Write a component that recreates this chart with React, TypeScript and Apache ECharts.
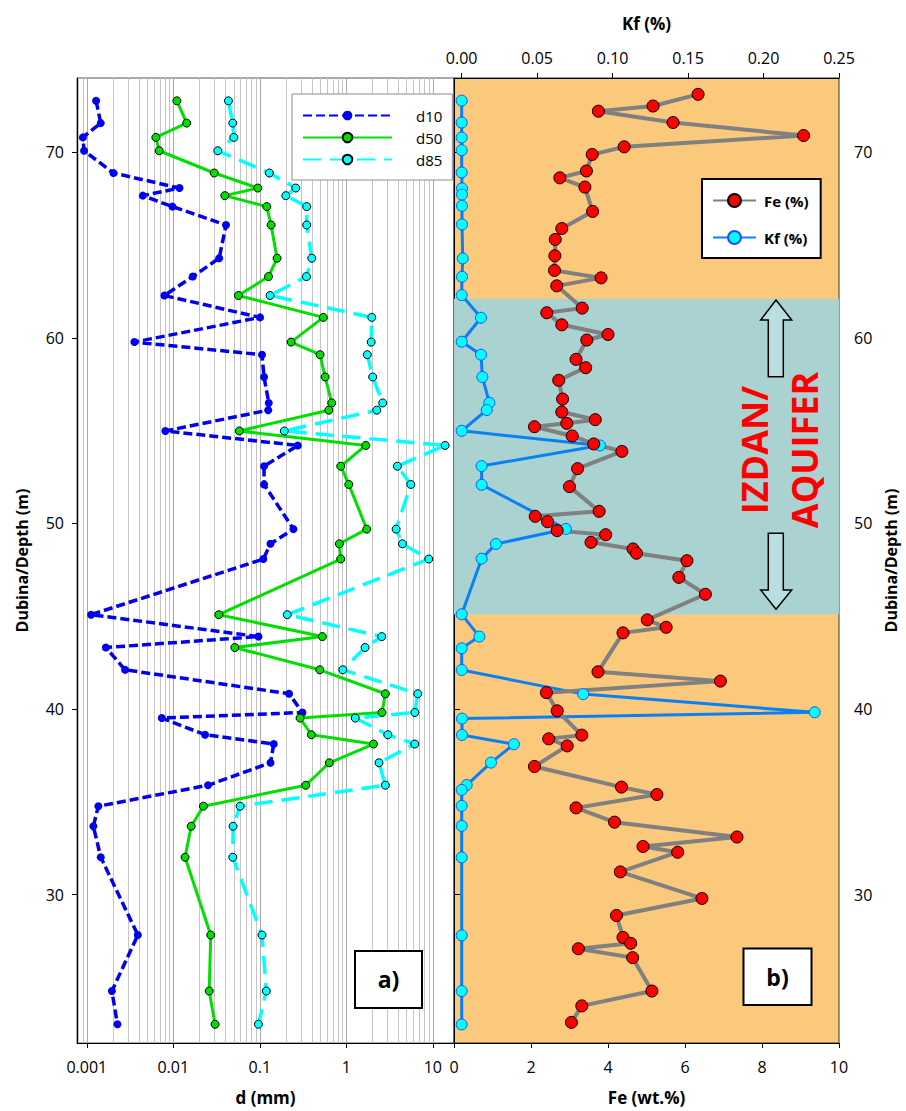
import React, { useEffect, useRef } from "react";
import * as echarts from "echarts";

const FONT = "'Open Sans', 'DejaVu Sans', sans-serif";

// ---- Panel a) grain size (log scale), depths of samples ----
const depthD = [72.77, 71.57, 70.8, 70.08, 68.88, 68.07, 67.66, 67.07, 66.08, 64.29, 63.3, 62.28, 61.1, 59.77, 59.09, 57.89, 56.49, 56.1, 54.98, 54.2, 53.08, 52.1, 49.69, 48.9, 48.08, 45.08, 43.9, 43.31, 42.11, 40.82, 39.81, 39.51, 38.61, 38.11, 37.1, 35.89, 34.76, 33.68, 32.01, 27.82, 24.8, 23.01];
const d10 = [0.00128, 0.00145, 0.0009, 0.00093, 0.00203, 0.0118, 0.00444, 0.00977, 0.0407, 0.0339, 0.0168, 0.00789, 0.1007, 0.00355, 0.106, 0.112, 0.127, 0.125, 0.0081, 0.275, 0.112, 0.112, 0.245, 0.133, 0.11, 0.00112, 0.0964, 0.00166, 0.00277, 0.218, 0.311, 0.00736, 0.0233, 0.145, 0.133, 0.0252, 0.00136, 0.00119, 0.00145, 0.00389, 0.00195, 0.00226];
const d50 = [0.011, 0.0143, 0.00628, 0.00686, 0.0297, 0.0948, 0.0394, 0.1205, 0.135, 0.1585, 0.126, 0.0566, 0.543, 0.23, 0.498, 0.569, 0.679, 0.628, 0.058, 1.68, 0.863, 1.069, 1.726, 0.832, 0.863, 0.0336, 0.529, 0.0514, 0.494, 2.83, 2.59, 0.292, 0.395, 2.06, 0.638, 0.34, 0.0223, 0.0161, 0.01368, 0.0271, 0.026, 0.0304];
const d85 = [0.0434, 0.0487, 0.0501, 0.0327, 0.129, 0.261, 0.2, 0.349, 0.349, 0.399, 0.346, 0.1315, 1.97, 1.94, 1.75, 2.02, 2.64, 2.25, 0.192, 13.9, 3.9, 5.57, 3.77, 4.46, 8.99, 0.208, 2.57, 1.65, 0.911, 6.71, 6.2, 1.27, 3.02, 6.2, 2.39, 2.83, 0.0592, 0.0491, 0.0487, 0.106, 0.119, 0.0964];

// ---- Panel b) Fe (wt.%) and Kf (%) ----
const depthFe = [73.12, 72.49, 72.21, 71.6, 70.9, 70.29, 69.88, 68.99, 68.62, 68.12, 66.81, 65.89, 65.3, 64.42, 63.63, 63.23, 62.8, 61.6, 61.35, 60.7, 60.18, 59.88, 58.84, 58.39, 57.71, 56.7, 56.0, 55.59, 55.39, 55.21, 54.71, 54.28, 53.88, 52.95, 51.98, 50.65, 50.38, 50.09, 49.61, 49.39, 48.98, 48.62, 48.39, 47.99, 47.09, 46.18, 44.8, 44.4, 44.1, 42.0, 41.5, 40.88, 39.9, 38.59, 38.39, 38.01, 36.9, 35.79, 35.39, 34.67, 33.9, 33.1, 32.59, 32.28, 31.22, 29.79, 28.87, 27.69, 27.37, 27.08, 26.6, 24.8, 24.0, 23.11];
const fe = [6.34, 5.17, 3.75, 5.69, 9.08, 4.42, 3.59, 3.44, 2.75, 3.4, 3.6, 2.8, 2.63, 2.62, 2.61, 3.82, 2.67, 3.33, 2.41, 2.8, 4.0, 3.45, 3.17, 3.42, 2.72, 2.82, 2.8, 3.67, 2.93, 2.09, 3.07, 3.63, 4.36, 3.21, 3.0, 3.77, 2.11, 2.43, 2.68, 3.94, 3.56, 4.65, 4.74, 6.05, 5.84, 6.53, 5.02, 5.51, 4.39, 3.74, 6.92, 2.4, 2.68, 3.32, 2.46, 2.94, 2.09, 4.35, 5.27, 3.17, 4.17, 7.35, 4.91, 5.81, 4.32, 6.44, 4.22, 4.39, 4.59, 3.23, 4.64, 5.14, 3.32, 3.05];
const depthKf = [72.78, 71.6, 70.79, 70.11, 68.91, 68.05, 67.72, 67.11, 66.11, 64.28, 63.29, 62.3, 61.08, 59.79, 59.09, 57.89, 56.5, 56.11, 54.99, 54.2, 53.09, 52.08, 49.7, 48.89, 48.1, 45.1, 43.9, 43.27, 42.1, 40.8, 39.82, 39.48, 38.6, 38.1, 37.11, 35.9, 35.64, 34.78, 33.7, 32.0, 27.8, 24.8, 23.0];
const kf = [0, 0, 0, 0, 0, 0.0002, 0.0002, 0.0002, 0.0002, 0.0007, 0.0002, 0, 0.0128, 0, 0.0128, 0.0137, 0.0183, 0.0166, 0, 0.0916, 0.0132, 0.0132, 0.069, 0.0227, 0.0132, 0, 0.0117, 0, 0, 0.0805, 0.2339, 0.0002, 0.0002, 0.0346, 0.0194, 0.0033, 0, 0, 0, 0, 0, 0, 0];

// ---- ticks / ranges ----
const depthTicks = [30, 40, 50, 60, 70];
const decadeTicks = [0.001, 0.01, 0.1, 1, 10];
const kfTicks = [0, 0.05, 0.1, 0.15, 0.2, 0.25];
const aquiferBand = [45.1, 62.1];

const ORANGE = "#FAC97B";
const TEAL = "#AAD2D0";

function pairs(xs: number[], ys: number[]) {
  return xs.map((v, i) => [v, ys[i]]);
}

function buildOption(): any {
  const tickLabel = { color: "#000", fontFamily: FONT, fontSize: 16 };
  const nameStyle = { color: "#000", fontFamily: FONT, fontSize: 17, fontWeight: "bold" as const };
  const axisLine = { show: true, lineStyle: { color: "#000", width: 1 } };

  return {
    animation: false,
    backgroundColor: "#fff",
    textStyle: { fontFamily: FONT },
    grid: [
      { left: 77, top: 78, width: 377, height: 965, show: true, borderColor: "#555", borderWidth: 1, backgroundColor: "#fff", outerBoundsMode: "none" },
      { left: 454, top: 78, width: 385, height: 965, show: true, borderColor: "#333", borderWidth: 1, backgroundColor: ORANGE, outerBoundsMode: "none" },
    ],
    xAxis: [
      {
        type: "log", gridIndex: 0, position: "bottom", logBase: 10, min: 0.00077, max: 17.6,
        name: "d (mm)", nameLocation: "middle", nameGap: 46, nameTextStyle: nameStyle,
        axisLine, axisTick: { show: true, inside: false, length: 5, lineStyle: { color: "#000" }, customValues: decadeTicks },
        axisLabel: { ...tickLabel, margin: 16, showMinLabel: false, showMaxLabel: false, formatter: (v: number) => String(parseFloat(Number(v).toPrecision(3))) },
        splitLine: { show: true, lineStyle: { color: "#a9a9a9", width: 1 } },
        minorTick: { show: false, splitNumber: 9 },
        minorSplitLine: { show: true, lineStyle: { color: "#c4c4c4", width: 1 } },
      },
      {
        type: "value", gridIndex: 1, position: "bottom", min: 0, max: 10, interval: 2,
        name: "Fe (wt.%)", nameLocation: "middle", nameGap: 46, nameTextStyle: nameStyle,
        axisLine, axisTick: { show: true, inside: false, length: 5, lineStyle: { color: "#000" } },
        axisLabel: { ...tickLabel, margin: 16 },
        splitLine: { show: false },
      },
      {
        type: "value", gridIndex: 1, position: "top", min: -0.0051, max: 0.25,
        name: "Kf (%)", nameLocation: "middle", nameGap: 46, nameTextStyle: nameStyle,
        axisLine, axisTick: { show: true, inside: false, length: 5, lineStyle: { color: "#000" }, customValues: kfTicks },
        axisLabel: { ...tickLabel, margin: 12, customValues: kfTicks, formatter: (v: number) => Number(v).toFixed(2) },
        splitLine: { show: false },
      },
    ],
    yAxis: [
      {
        type: "value", gridIndex: 0, position: "left", min: 22, max: 74,
        name: "Dubina/Depth (m)", nameLocation: "middle", nameRotate: 90, nameGap: 47, nameTextStyle: { ...nameStyle, fontSize: 16 },
        axisLine, axisTick: { show: true, inside: false, length: 5, lineStyle: { color: "#000" }, customValues: depthTicks },
        axisLabel: { ...tickLabel, margin: 13, customValues: depthTicks },
        splitLine: { show: false },
      },
      {
        type: "value", gridIndex: 1, position: "right", min: 22, max: 74,
        name: "Dubina/Depth (m)", nameLocation: "middle", nameRotate: 90, nameGap: 44, nameTextStyle: { ...nameStyle, fontSize: 16 },
        axisLine, axisTick: { show: true, inside: false, length: 6, lineStyle: { color: "#000" }, customValues: depthTicks },
        axisLabel: { ...tickLabel, margin: 15, customValues: depthTicks },
        splitLine: { show: false },
      },
    ],
    legend: [
      {
        data: ["d10", "d50", "d85"], orient: "vertical", left: 292, top: 94,
        itemWidth: 89, itemHeight: 12, itemGap: 7, padding: [14, 10, 13, 10],
        backgroundColor: "#fff", borderColor: "#8c8c8c", borderWidth: 1, borderRadius: 0,
        textStyle: { color: "#000", fontFamily: FONT, fontSize: 15, padding: [0, 0, 0, 19] },
        selectedMode: false,
      },
      {
        data: ["Fe (%)", "Kf (%)"], orient: "vertical", left: 702, top: 179,
        itemWidth: 43, itemHeight: 16, itemGap: 22, padding: [14, 12, 13, 10],
        backgroundColor: "#fff", borderColor: "#000", borderWidth: 2, borderRadius: 0,
        textStyle: { color: "#000", fontFamily: FONT, fontSize: 15, fontWeight: "bold", padding: [0, 0, 0, 3] },
        selectedMode: false,
      },
    ],
    series: [
      {
        name: "d10", type: "line", xAxisIndex: 0, yAxisIndex: 0, data: pairs(d10, depthD),
        symbol: "circle", symbolSize: 8,
        lineStyle: { color: "#0000F0", width: 3.5, type: [9, 4] },
        itemStyle: { color: "#0000F0", borderWidth: 0 },
      },
      {
        name: "d50", type: "line", xAxisIndex: 0, yAxisIndex: 0, data: pairs(d50, depthD),
        symbol: "circle", symbolSize: 8,
        lineStyle: { color: "#00E000", width: 3, type: "solid" },
        itemStyle: { color: "#00E000", borderColor: "#000", borderWidth: 1 },
      },
      {
        name: "d85", type: "line", xAxisIndex: 0, yAxisIndex: 0, data: pairs(d85, depthD),
        symbol: "circle", symbolSize: 8,
        lineStyle: { color: "#00FFFF", width: 3.5, type: [18, 9] },
        itemStyle: { color: "#00FFFF", borderColor: "#000", borderWidth: 1 },
      },
      {
        name: "Kf (%)", type: "line", xAxisIndex: 2, yAxisIndex: 1, data: pairs(kf, depthKf),
        symbol: "circle", symbolSize: 11,
        lineStyle: { color: "#0A80F5", width: 3 },
        itemStyle: { color: "#00FFFF", borderColor: "#1F4FFF", borderWidth: 1 },
        markArea: {
          silent: true,
          itemStyle: { color: TEAL },
          data: [[{ yAxis: aquiferBand[0] }, { yAxis: aquiferBand[1] }]],
        },
      },
      {
        name: "Fe (%)", type: "line", xAxisIndex: 1, yAxisIndex: 1, data: pairs(fe, depthFe),
        symbol: "circle", symbolSize: 12,
        lineStyle: { color: "#808080", width: 4 },
        itemStyle: { color: "#FF0000", borderColor: "#000", borderWidth: 1 },
      },
    ],
    graphic: [
      {
        type: "polygon", z: 100,
        shape: { points: [[776, 300], [791.7, 320], [783.3, 320], [783.3, 376.7], [768.3, 376.7], [768.3, 320], [760.7, 320]] },
        style: { fill: "#B9DFE2", stroke: "#000", lineWidth: 1.5 },
      },
      {
        type: "polygon", z: 100,
        shape: { points: [[768.3, 533.3], [783.3, 533.3], [783.3, 590], [791.7, 590], [776, 609.3], [760.7, 590], [768.3, 590]] },
        style: { fill: "#B9DFE2", stroke: "#000", lineWidth: 1.5 },
      },
      {
        type: "text", z: 100, x: 779, y: 450, rotation: Math.PI / 2,
        style: {
          text: "IZDAN/\nAQUIFER", fill: "#FF0000", font: `bold 36px ${FONT}`,
          align: "center", verticalAlign: "middle", lineHeight: 50,
        },
      },
      {
        type: "rect", z: 100, shape: { x: 355, y: 951, width: 67, height: 57 },
        style: { fill: "#fff", stroke: "#000", lineWidth: 2 },
      },
      {
        type: "text", z: 101, x: 388.5, y: 979,
        style: { text: "a)", fill: "#000", font: `bold 23px ${FONT}`, align: "center", verticalAlign: "middle" },
      },
      {
        type: "rect", z: 100, shape: { x: 743.5, y: 948.5, width: 68, height: 56.5 },
        style: { fill: "#fff", stroke: "#000", lineWidth: 2 },
      },
      {
        type: "text", z: 101, x: 777.5, y: 976.5,
        style: { text: "b)", fill: "#000", font: `bold 23px ${FONT}`, align: "center", verticalAlign: "middle" },
      },
    ],
  };
}

export default function App() {
  const ref = useRef<HTMLDivElement>(null);
  useEffect(() => {
    if (!ref.current) return;
    const chart = echarts.init(ref.current, null, { renderer: "svg" });
    chart.setOption(buildOption());
    return () => chart.dispose();
  }, []);
  return (
    <div
      ref={ref}
      style={{ position: "fixed", left: 0, top: 0, width: 906, height: 1111, background: "#fff" }}
    />
  );
}
